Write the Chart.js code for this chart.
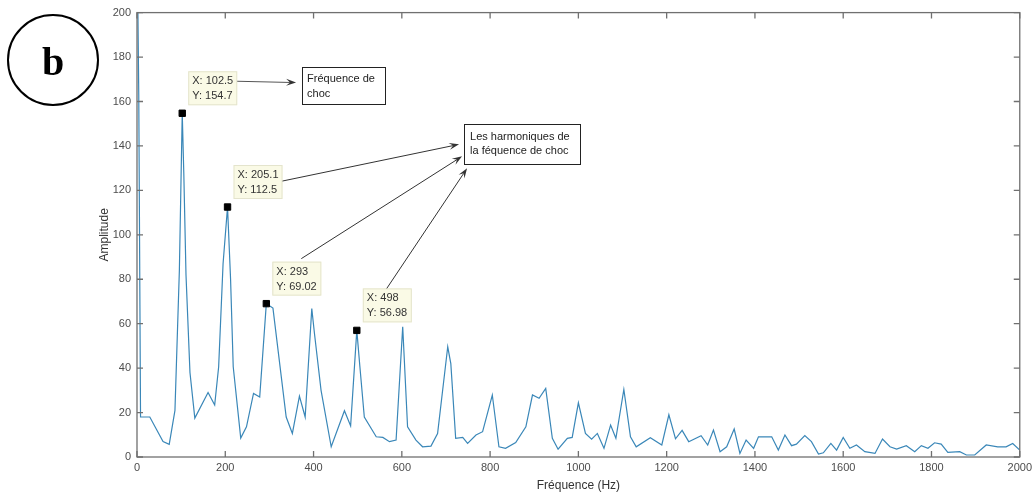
<!DOCTYPE html>
<html>
<head>
<meta charset="utf-8">
<script src="https://cdn.jsdelivr.net/npm/chart.js@4/dist/chart.umd.min.js"></script>
<style>
  html, body { margin: 0; padding: 0; background: #fff; }
  #wrap { position: relative; width: 1036px; height: 497px; }
</style>
</head>
<body>
<div id="wrap"><canvas id="spectre" width="1036" height="497"></canvas></div>
<script>
// Spectre : fréquences (Hz) et amplitudes
const frequences = [0, 4, 8, 29, 59, 73, 86, 96, 102.5, 106, 111, 120, 131, 161, 176, 185, 195, 205.1, 212, 218, 235,
  248, 264, 278, 293, 308, 338, 352, 368, 381, 396, 402, 417, 440, 470, 484, 498, 505, 515, 542, 557, 572, 587,
  602, 613, 632, 647, 666, 681, 704, 711, 722, 738, 749, 768, 783, 805, 820, 835, 858, 881, 896, 911, 926, 941,
  954, 975, 986, 1000, 1016, 1030, 1043, 1058, 1073, 1085, 1103, 1118, 1131, 1163, 1189, 1205, 1220, 1235, 1250,
  1278, 1293, 1306, 1321, 1336, 1353, 1366, 1380, 1397, 1408, 1438, 1453, 1468, 1483, 1494, 1513, 1528, 1544,
  1555, 1572, 1585, 1600, 1615, 1630, 1649, 1672, 1689, 1706, 1721, 1743, 1762, 1777, 1792, 1807, 1822, 1837,
  1864, 1879, 1898, 1924, 1950, 1969, 1984, 2000];
const amplitudes = [240, 163, 18, 18, 7, 5.7, 21, 84, 154.7, 128, 82, 38, 17.5, 29, 23.4, 40.6, 87, 112.5, 80, 40.6, 8.5,
  13.6, 28.6, 27, 69.02, 67, 18, 10.6, 27.4, 18, 66.8, 55.7, 30, 4.6, 20.8, 14, 56.98, 40.6, 18, 9.1, 8.8, 6.9, 7.6,
  58.6, 13.6, 7.6, 4.6, 4.9, 10.6, 49.6, 42, 8.4, 8.8, 6.1, 9.9, 11.4, 27.9, 4.6, 3.9, 6.5, 13.6, 27.9, 26.4, 30.9, 8.4,
  3.5, 8.4, 8.8, 24.4, 10.6, 8, 10.6, 3.9, 14.4, 8.4, 30.4, 9.1, 4.6, 8.7, 5.4, 19, 8.2, 12, 6.9,
  9.6, 5.4, 12.1, 2.4, 4.6, 12.6, 1.6, 7.6, 3.9, 9.1, 9.1, 3.1, 9.9, 5.1, 5.8, 9.6, 6.9, 1.3,
  1.9, 6.1, 3.1, 8.8, 3.9, 5.4, 2.4, 1.6, 8.1, 4.6, 3.6, 5.1, 2.4, 5.1, 3.9, 6.4, 5.8, 2.1,
  2.4, 0.9, 0.9, 5.4, 4.6, 4.6, 6.1, 3.1];

// Points marqués (data tips)
const picsX = [102.5, 205.1, 293, 498];
const picsY = [154.7, 112.5, 69.02, 56.98];
const picsTexte = [["X: 102.5", "Y: 154.7"], ["X: 205.1", "Y: 112.5"], ["X: 293", "Y: 69.02"], ["X: 498", "Y: 56.98"]];

// Graduations
const ticksX = [0, 200, 400, 600, 800, 1000, 1200, 1400, 1600, 1800, 2000];
const ticksY = [0, 20, 40, 60, 80, 100, 120, 140, 160, 180, 200];

// Annotations
const noteChoc = ["Fréquence de", "choc"];
const noteHarm = ["Les harmoniques de", "la féquence de choc"];

const police = "'Liberation Sans', Arial, sans-serif";

function fleche(ctx, x1, y1, x2, y2) {
    const a = Math.atan2(y2 - y1, x2 - x1);
    const L = 10, W = 3.5;
    const c = Math.cos(a), s = Math.sin(a);
    ctx.beginPath();
    ctx.moveTo(x1, y1);
    ctx.lineTo(x2 - L * 0.6 * c, y2 - L * 0.6 * s);
    ctx.stroke();
    ctx.beginPath();
    ctx.moveTo(x2, y2);
    ctx.lineTo(x2 - L * c + W * s, y2 - L * s - W * c);
    ctx.lineTo(x2 - L * 0.6 * c, y2 - L * 0.6 * s);
    ctx.lineTo(x2 - L * c - W * s, y2 - L * s + W * c);
    ctx.closePath();
    ctx.fill();
}

// cadre + graduations vers l'intérieur (style MATLAB)
const cadre = {
    id: "cadre",
    afterDatasetsDraw(chart) {
        const ctx = chart.ctx;
        const a = chart.chartArea;
        const sx = chart.scales.x, sy = chart.scales.y;
        ctx.save();
        ctx.strokeStyle = "#707070";
        ctx.lineWidth = 1.3;
        ctx.strokeRect(a.left, a.top, a.right - a.left, a.bottom - a.top);
        ctx.beginPath();
        ticksX.forEach(v => {
            const p = sx.getPixelForValue(v);
            ctx.moveTo(p, a.bottom); ctx.lineTo(p, a.bottom - 6);
            ctx.moveTo(p, a.top); ctx.lineTo(p, a.top + 6);
        });
        ticksY.forEach(v => {
            const p = sy.getPixelForValue(v);
            ctx.moveTo(a.left, p); ctx.lineTo(a.left + 6, p);
            ctx.moveTo(a.right, p); ctx.lineTo(a.right - 6, p);
        });
        ctx.stroke();
        ctx.restore();
    }
};

// data tips, flèches et boîtes de texte
const annotations = {
    id: "annotations",
    afterDatasetsDraw(chart) {
        const ctx = chart.ctx;
        const sx = chart.scales.x, sy = chart.scales.y;
        ctx.save();
        ctx.font = "11px " + police;
        ctx.textBaseline = "middle";

        const boites = picsX.map((x, i) => {
            const px = sx.getPixelForValue(x), py = sy.getPixelForValue(picsY[i]);
            return { left: px + 6, top: py - 42, w: 49, h: 34 };
        });
        boites.forEach((b, i) => {
            ctx.fillStyle = "#fafae6";
            ctx.fillRect(b.left, b.top, b.w, b.h);
            ctx.strokeStyle = "#e4e4cc";
            ctx.lineWidth = 1;
            ctx.strokeRect(b.left + 0.5, b.top + 0.5, b.w - 1, b.h - 1);
            ctx.fillStyle = "#333";
            ctx.fillText(picsTexte[i][0], b.left + 4, b.top + 10);
            ctx.fillText(picsTexte[i][1], b.left + 4, b.top + 25);
        });

        // boîte "Fréquence de choc"
        const c1 = { left: sx.getPixelForValue(374), top: sy.getPixelForValue(175.7), w: 83, h: 37 };
        // boîte "Les harmoniques"
        const c2 = { left: sx.getPixelForValue(741), top: sy.getPixelForValue(149.7), w: 116, h: 40 };

        ctx.fillStyle = "#333";
        ctx.strokeStyle = "#555";
        ctx.lineWidth = 1;
        const b0 = boites[0];
        fleche(ctx, b0.left + b0.w, b0.top + 10, c1.left - 6, c1.top + 16);
        const b1 = boites[1], b2 = boites[2], b3 = boites[3];
        ctx.strokeStyle = "#333";
        fleche(ctx, b1.left + b1.w, b1.top + 16, c2.left - 5, c2.top + 20);
        fleche(ctx, b2.left + 29, b2.top - 3, c2.left - 2, c2.top + 32);
        fleche(ctx, b3.left + 24, b3.top, c2.left + 3, c2.top + 44);

        [[c1, noteChoc, 5, 12, 15], [c2, noteHarm, 6, 13, 14]].forEach(([c, txt, dx, dy, lh]) => {
            ctx.fillStyle = "#fff";
            ctx.fillRect(c.left, c.top, c.w, c.h);
            ctx.strokeStyle = "#222";
            ctx.lineWidth = 1;
            ctx.strokeRect(Math.round(c.left) + 0.5, Math.round(c.top) + 0.5, c.w, c.h);
            ctx.fillStyle = "#222";
            txt.forEach((t, k) => ctx.fillText(t, c.left + dx, c.top + dy + k * lh));
        });
        ctx.restore();
    },
    afterDraw(chart) {
        // étiquette (b)
        const ctx = chart.ctx;
        ctx.save();
        ctx.beginPath();
        ctx.arc(53, 60, 45, 0, Math.PI * 2);
        ctx.lineWidth = 2;
        ctx.strokeStyle = "#000";
        ctx.stroke();
        ctx.fillStyle = "#000";
        ctx.font = "bold 40px 'Liberation Serif', 'Times New Roman', serif";
        ctx.textAlign = "center";
        ctx.textBaseline = "alphabetic";
        ctx.fillText("b", 53, 75);
        ctx.restore();
    }
};

const ctx = document.getElementById("spectre").getContext("2d");
new Chart(ctx, {
    type: "line",
    data: {
        datasets: [{
            data: frequences.map((f, i) => ({ x: f, y: amplitudes[i] })),
            borderColor: "#3a87b8",
            borderWidth: 1.2,
            pointRadius: 0,
            tension: 0,
            fill: false,
            order: 2
        }, {
            data: picsX.map((x, i) => ({ x: x, y: picsY[i] })),
            showLine: false,
            pointStyle: "rect",
            pointRadius: 4.5,
            backgroundColor: "#000",
            borderColor: "#000",
            borderWidth: 1,
            order: 1
        }]
    },
    options: {
        responsive: false,
        animation: false,
        events: [],
        layout: { padding: { top: 12, right: 14, left: 0, bottom: 0 } },
        plugins: { legend: { display: false }, tooltip: { enabled: false } },
        scales: {
            x: {
                type: "linear",
                min: 0,
                max: 2000,
                afterBuildTicks: s => { s.ticks = ticksX.map(v => ({ value: v })); },
                afterFit: s => { s.height = 40; },
                grid: { display: false, drawTicks: false },
                border: { display: false },
                ticks: { padding: 4, color: "#4d4d4d", maxRotation: 0, autoSkip: false, font: { family: police, size: 11 },
                         callback: v => String(v) },
                title: { display: true, text: "Fréquence (Hz)", color: "#333", font: { family: police, size: 12 }, padding: { top: 0, bottom: 4 } }
            },
            y: {
                min: 0,
                max: 200,
                afterBuildTicks: s => { s.ticks = ticksY.map(v => ({ value: v })); },
                afterFit: s => { s.width = 137; },
                grid: { display: false, drawTicks: false },
                border: { display: false },
                ticks: { padding: 6, color: "#4d4d4d", font: { family: police, size: 11 }, callback: v => String(v) },
                title: { display: true, text: "Amplitude", color: "#333", font: { family: police, size: 12 }, padding: { top: 97, bottom: 0 } }
            }
        }
    },
    plugins: [cadre, annotations]
});
</script>
</body>
</html>
